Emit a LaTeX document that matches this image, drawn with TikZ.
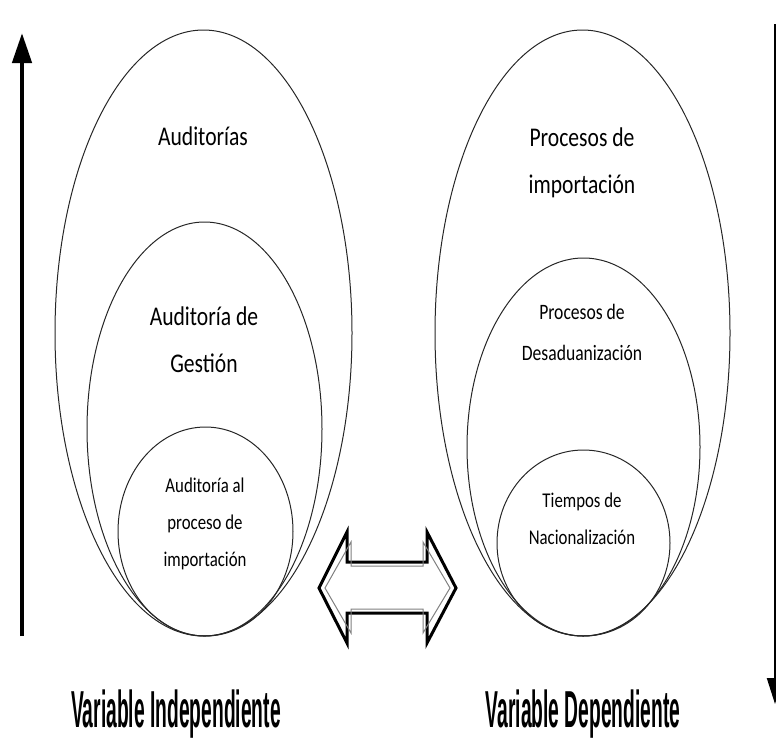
\documentclass[tikz,border=0pt]{standalone}
\usepackage{fontspec}
\setmainfont{Carlito}
\newfontfamily\boxfont{Carlito}[FakeStretch=0.8]
\newfontfamily\varfont{Liberation Sans Bold}[FakeStretch=0.37]
\usetikzlibrary{shapes.geometric,arrows.meta}

\begin{document}
\begin{tikzpicture}[x=1pt,y=-1pt]
  \tikzset{
    ring/.style={ellipse,draw=black!85,line width=1pt,inner sep=0pt},
    bigtext/.style={align=center,font=\boxfont\fontsize{27}{47}\selectfont},
    midtext/.style={align=center,font=\boxfont\fontsize{22}{41}\selectfont},
    smalltext/.style={align=center,font=\boxfont\fontsize{21}{37}\selectfont},
    varlabel/.style={anchor=base,font=\varfont\fontsize{52}{52}\selectfont},
    axis/.style={line width=#1,-{Triangle[width=19pt,length=30pt]}},
  }
  \useasboundingbox (0,0) rectangle (776,739);

  % independent variable
  \node [ring,minimum width=297pt,minimum height=606pt] (audit)  at (203.5,333)   {};
  \node [ring,minimum width=235pt,minimum height=414pt] (gestion) at (204.5,429)  {};
  \node [ring,minimum width=175pt,minimum height=209pt] (proceso) at (205.5,531.5) {};
  \node [bigtext]   (taudit)   at (203,136) {Auditorías};
  \node [bigtext]   (tgestion) at (204,340) {Auditoría de\\Gestión};
  \node [smalltext] (tproceso) at (205,524) {Auditoría al\\proceso de\\importación};

  % dependent variable
  \node [ring,minimum width=295pt,minimum height=606pt] (import) at (582.5,333) {};
  \node [ring,minimum width=233pt,minimum height=378pt] (desad)  at (583.5,447) {};
  \node [ring,minimum width=173pt,minimum height=186pt] (tiempo) at (583.5,543) {};
  \node [bigtext]   (timport) at (582,163) {Procesos de\\importación};
  \node [midtext]   (tdesad)  at (582,332.5) {Procesos de\\Desaduanización};
  \node [smalltext] (ttiempo) at (582,518.5) {Tiempos de\\Nacionalización};

  \node [varlabel] (indep) at (176,727) {Variable Independiente};
  \node [varlabel] (dep)   at (583,727) {Variable Dependiente};

  % side arrows
  \coordinate (upfrom) at (22,636);
  \coordinate (upto)   at (22,33);
  \coordinate (downfrom) at (775,24);
  \coordinate (downto)   at (775,704);
  \draw [axis=4.5pt] (upfrom) -- (upto);
  \draw [line width=2pt,-{Triangle[width=16pt,length=26pt]}] (downfrom) -- (downto);

  % two-way arrow
  \draw [line width=3pt,line join=miter] (319,588) -- (347,532) -- (347,562) -- (427,562) -- (427,532)
    -- (456,588) -- (427,643) -- (427,613) -- (347,613) -- (347,643) -- cycle;
  \draw [gray,line width=1pt] (325,588) -- (351,542) -- (351,566) -- (423,566) -- (423,542)
    -- (450,588) -- (423,633) -- (423,609) -- (351,609) -- (351,633) -- cycle;
\end{tikzpicture}
\end{document}
